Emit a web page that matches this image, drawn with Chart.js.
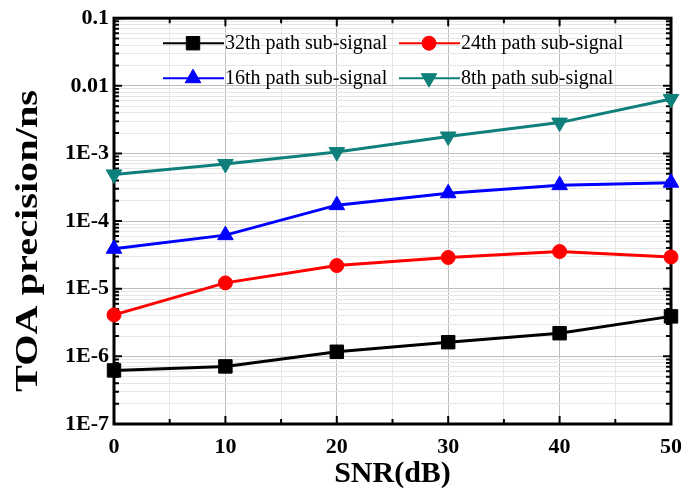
<!DOCTYPE html>
<html>
<head>
<meta charset="utf-8">
<script src="https://cdn.jsdelivr.net/npm/chart.js@4.4.1/dist/chart.umd.min.js"></script>
<style>
  html, body { margin: 0; padding: 0; background: #fff; }
  #wrap { width: 692px; height: 488px; }
</style>
</head>
<body>
<div id="wrap"><canvas id="toaChart" width="692" height="488"></canvas></div>
<script>
// SNR values (dB) on the x axis
const snr = [0, 10, 20, 30, 40, 50];

// TOA precision (ns) per sub-signal
const path32 = [6.2e-7, 7.1e-7, 1.17e-6, 1.62e-6, 2.2e-6, 3.9e-6];
const path24 = [4.1e-6, 1.22e-5, 2.2e-5, 2.9e-5, 3.55e-5, 2.95e-5];
const path16 = [3.9e-5, 6.2e-5, 1.72e-4, 2.58e-4, 3.4e-4, 3.7e-4];
const path8 = [4.9e-4, 7.0e-4, 1.05e-3, 1.78e-3, 2.86e-3, 6.4e-3];

const seriesNames = ['32th path sub-signal', '24th path sub-signal', '16th path sub-signal', '8th path sub-signal'];

// decade labels, from 1E-7 up to 0.1
const yTickLabels = ['1E-7', '1E-6', '1E-5', '1E-4', '1E-3', '0.01', '0.1'];
const xTickLabels = ['0', '10', '20', '30', '40', '50'];

const serif = "'Liberation Serif', 'Times New Roman', serif";

function pairs(values) {
    return snr.map((x, i) => ({ x: x, y: values[i] }));
}

function isDecade(v) {
    const l = Math.log10(v);
    return Math.abs(l - Math.round(l)) < 1e-6;
}

function makeSet(label, values, color, style, radius, rotation) {
    return {
        label: label,
        data: pairs(values),
        borderColor: color,
        backgroundColor: color,
        borderWidth: 3,
        pointStyle: style,
        pointRadius: radius,
        pointHoverRadius: radius,
        pointRotation: rotation,
        pointBorderWidth: 1,
        tension: 0,
        clip: false
    };
}

// frame and inward tick marks on all four sides
const frameTicks = {
    id: 'frameTicks',
    beforeDatasetsDraw(chart) {
        const { ctx, chartArea: a, scales: { x, y } } = chart;
        ctx.save();
        ctx.strokeStyle = '#000';
        ctx.lineWidth = 2;
        ctx.beginPath();
        x.ticks.forEach(t => {
            const px = x.getPixelForValue(t.value);
            const len = t.value % 10 === 0 ? 8 : 5;
            ctx.moveTo(px, a.bottom); ctx.lineTo(px, a.bottom - len);
            ctx.moveTo(px, a.top); ctx.lineTo(px, a.top + len);
        });
        y.ticks.forEach(t => {
            const py = y.getPixelForValue(t.value);
            const len = isDecade(t.value) ? 8 : 5;
            ctx.moveTo(a.left, py); ctx.lineTo(a.left + len, py);
            ctx.moveTo(a.right, py); ctx.lineTo(a.right - len, py);
        });
        ctx.stroke();
        ctx.lineWidth = 3;
        ctx.strokeRect(a.left, a.top, a.right - a.left, a.bottom - a.top);
        ctx.restore();
    }
};

// 2x2 legend inside the plot, line with marker through it
const boxLegend = {
    id: 'boxLegend',
    afterDatasetsDraw(chart) {
        const { ctx, chartArea: a } = chart;
        const slots = [
            { x: a.left + 49, y: a.top + 25 },
            { x: a.left + 285, y: a.top + 25 },
            { x: a.left + 49, y: a.top + 60 },
            { x: a.left + 285, y: a.top + 60 }
        ];
        ctx.save();
        chart.data.datasets.forEach((ds, i) => {
            const s = slots[i];
            ctx.strokeStyle = ds.borderColor;
            ctx.lineWidth = 2;
            ctx.beginPath();
            ctx.moveTo(s.x, s.y);
            ctx.lineTo(s.x + 61, s.y);
            ctx.stroke();
            ctx.fillStyle = ds.backgroundColor;
            ctx.lineWidth = 1;
            Chart.helpers.drawPoint(ctx, {
                pointStyle: ds.pointStyle,
                radius: ds.pointRadius,
                rotation: ds.pointRotation,
                borderWidth: 1
            }, s.x + 30, s.y);
            ctx.fillStyle = '#000';
            ctx.font = '20px ' + serif;
            ctx.textBaseline = 'middle';
            ctx.textAlign = 'left';
            ctx.fillText(ds.label, s.x + 62, s.y + 1);
        });
        ctx.restore();
    }
};

// vertical axis title, drawn tall and narrow
const yTitle = {
    id: 'yTitle',
    afterDraw(chart) {
        const { ctx } = chart;
        ctx.save();
        ctx.translate(29, 241);
        ctx.rotate(-Math.PI / 2);
        ctx.scale(1.3, 1);
        ctx.fillStyle = '#000';
        ctx.font = 'bold 31px ' + serif;
        ctx.textAlign = 'center';
        ctx.textBaseline = 'middle';
        ctx.fillText('TOA precision/ns', 0, 0);
        ctx.restore();
    }
};

const ctx = document.getElementById('toaChart').getContext('2d');

new Chart(ctx, {
    type: 'line',
    data: {
        datasets: [
            makeSet(seriesNames[0], path32, '#000000', 'rect', 9.5, 0),
            makeSet(seriesNames[1], path24, '#ff0000', 'circle', 7, 0),
            makeSet(seriesNames[2], path16, '#0000ff', 'triangle', 9, 0),
            makeSet(seriesNames[3], path8, '#0e7f7a', 'triangle', 9, 180)
        ]
    },
    options: {
        responsive: false,
        animation: false,
        layout: { padding: { top: 15, right: 15, left: 0, bottom: 0 } },
        plugins: {
            legend: { display: false },
            tooltip: { enabled: false }
        },
        scales: {
            x: {
                type: 'linear',
                min: 0,
                max: 50,
                afterFit(scale) { scale.height = 64; },
                ticks: {
                    stepSize: 5,
                    autoSkip: false,
                    maxRotation: 0,
                    padding: 10,
                    color: '#000',
                    font: { family: serif, size: 22, weight: 'bold' },
                    callback: v => v % 10 === 0 ? xTickLabels[v / 10] : ''
                },
                grid: {
                    drawTicks: false,
                    lineWidth: 1,
                    color: c => c.tick && c.tick.value % 10 === 0 ? '#bdbdbd' : '#e6e6e6'
                },
                border: { display: false },
                title: {
                    display: true,
                    text: 'SNR(dB)',
                    color: '#000',
                    font: { family: serif, size: 30, weight: 'bold' },
                    padding: { top: 0, bottom: -4 }
                }
            },
            y: {
                type: 'logarithmic',
                min: 1e-7,
                max: 0.1,
                afterFit(scale) { scale.width = 114; },
                afterBuildTicks(scale) {
                    const ticks = [];
                    for (let d = -7; d <= -1; d++) {
                        for (let m = 1; m <= 9; m++) {
                            if (d === -1 && m > 1) break;
                            ticks.push({ value: m * Math.pow(10, d) });
                        }
                    }
                    scale.ticks = ticks;
                },
                ticks: {
                    autoSkip: false,
                    padding: 5,
                    color: '#000',
                    font: { family: serif, size: 22, weight: 'bold' },
                    callback: v => isDecade(v) ? yTickLabels[Math.round(Math.log10(v)) + 7] : ''
                },
                grid: {
                    drawTicks: false,
                    lineWidth: 1,
                    color: c => c.tick && isDecade(c.tick.value) ? '#bdbdbd' : '#e6e6e6'
                },
                border: { display: false },
                title: { display: false }
            }
        }
    },
    plugins: [frameTicks, boxLegend, yTitle]
});
</script>
</body>
</html>
